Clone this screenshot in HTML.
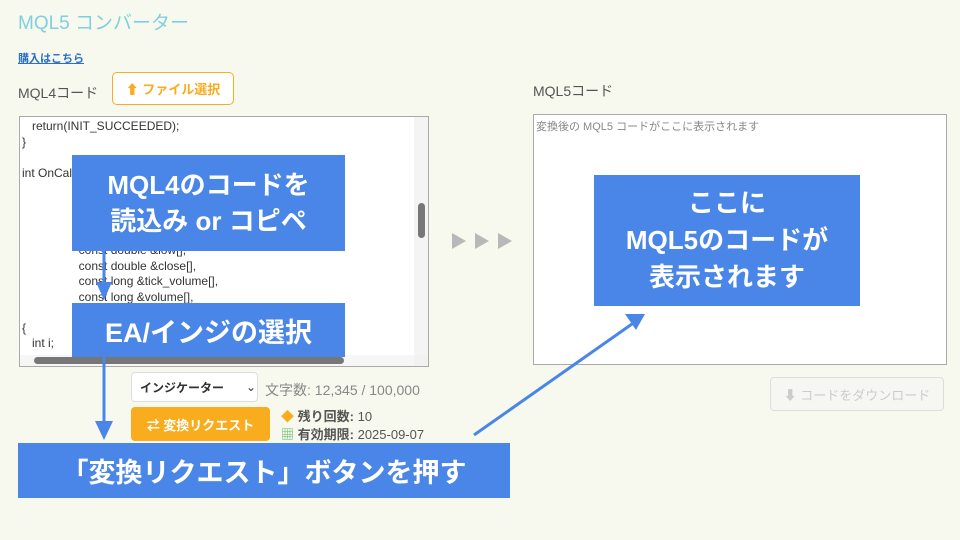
<!DOCTYPE html>
<html><head><meta charset="utf-8"><style>
body{margin:0;width:960px;height:540px;background:#f8f9ee;position:relative;overflow:hidden;font-family:"Liberation Sans","Noto Sans CJK JP",sans-serif}
.a{position:absolute}
.code{font-size:12px;color:#333;line-height:15.5px;white-space:pre}
.blue{background:#4a86e8;color:#fff;font-weight:bold;text-align:center;display:flex;align-items:center;justify-content:center}
</style></head><body>
<div class="a" style="left:18px;top:8px;font-size:19px;color:#7fd0de">MQL5 コンバーター</div>
<div class="a" style="left:18px;top:50px;font-size:11px;font-weight:bold;color:#2a6fc9;text-decoration:underline">購入はこちら</div>
<div class="a" style="left:18px;top:83px;font-size:14px;color:#555">MQL4コード</div>
<div class="a" style="left:112px;top:72px;width:120px;height:31px;border:1.5px solid #f8ac1e;border-radius:5px;background:#fff;color:#f8ac1e;font-size:13px;font-weight:bold;display:flex;align-items:center;justify-content:center">⬆ ファイル選択</div>
<div class="a" style="left:19px;top:116px;width:408px;height:249px;background:#fff;border:1px solid #aaa;overflow:hidden">
<div class="a code" style="left:2px;top:2px">   return(INIT_SUCCEEDED);
}

int OnCalculate(const int rates_total,
                 const int prev_calculated,
                 const datetime &time[],
                 const double &open[],
                 const double &high[],
                 const double &low[],
                 const double &close[],
                 const long &tick_volume[],
                 const long &volume[],
                 const int &spread[])
{
   int i;</div>
<div class="a" style="right:0;top:0;width:14px;height:249px;background:#f4f4f4"></div>
<div class="a" style="right:3px;top:86px;width:7px;height:35px;background:#777;border-radius:4px"></div>
<div class="a" style="left:0;bottom:0;width:408px;height:11px;background:rgba(240,240,240,.6)"></div>
<div class="a" style="left:14px;bottom:2px;width:310px;height:7px;background:#777;border-radius:4px"></div>
</div>
<svg class="a" style="left:450px;top:231px" width="70" height="20"><g fill="#b8b8b8"><polygon points="2,2 16,10 2,18"/><polygon points="25,2 39,10 25,18"/><polygon points="48,2 62,10 48,18"/></g></svg>
<div class="a" style="left:533px;top:81px;font-size:14px;color:#555">MQL5コード</div>
<div class="a" style="left:533px;top:114px;width:412px;height:249px;background:#fff;border:1px solid #aaa"></div>
<div class="a" style="left:536px;top:118px;font-size:11px;color:#888">変換後の MQL5 コードがここに表示されます</div>
<div class="a" style="left:770px;top:377px;width:172px;height:32px;border:1.5px solid #ddd;border-radius:4px;background:#f6f6f2;color:#ccc;font-size:13px;display:flex;align-items:center;justify-content:center">⬇ コードをダウンロード</div>
<div class="a" style="left:131px;top:372px;width:127px;height:30px;border:1px solid #ddd;border-radius:4px;background:#fff;font-size:12px;font-weight:bold;color:#333;display:flex;align-items:center;padding-left:8px;box-sizing:border-box">インジケーター<span style="margin-left:22px;font-weight:normal">⌄</span></div>
<div class="a" style="left:265px;top:380px;font-size:14px;color:#888">文字数: 12,345 / 100,000</div>
<div class="a" style="left:131px;top:407px;width:139px;height:34px;border-radius:4px;background:#f8ac1e;color:#fff;font-size:13px;font-weight:bold;display:flex;align-items:center;justify-content:center">⇄ 変換リクエスト</div>
<div class="a" style="left:281px;top:406px;font-size:13px;color:#555"><span style="color:#f8ac1e">◆</span> <b>残り回数:</b> 10</div>
<div class="a" style="left:281px;top:424px;font-size:13px;color:#555"><span style="color:#5cb85c">▦</span> <b>有効期限:</b> 2025-09-07</div>
<div class="a blue" style="left:72px;top:155px;width:273px;height:96px;font-size:26px;line-height:36px">MQL4のコードを<br>読込み or コピペ</div>
<div class="a blue" style="left:72px;top:303px;width:273px;height:54px;font-size:27px">EA/インジの選択</div>
<div class="a blue" style="left:18px;top:443px;width:492px;height:55px;font-size:27px">「変換リクエスト」ボタンを押す</div>
<div class="a blue" style="left:594px;top:175px;width:266px;height:131px;font-size:26px;line-height:37px">ここに<br>MQL5のコードが<br>表示されます</div>
<svg class="a" style="left:0;top:0" width="960" height="540">
<g stroke="#4a86e8" stroke-width="3" fill="#4a86e8">
<line x1="104" y1="251" x2="104" y2="285"/><polygon points="96,282 112,282 104,300" stroke="none"/>
<line x1="104" y1="357" x2="104" y2="425"/><polygon points="95,421 113,421 104,440" stroke="none"/>
<line x1="474" y1="435" x2="632" y2="324"/><polygon points="645,314 625,314 636,330" stroke="none"/>
</g></svg>
</body></html>
